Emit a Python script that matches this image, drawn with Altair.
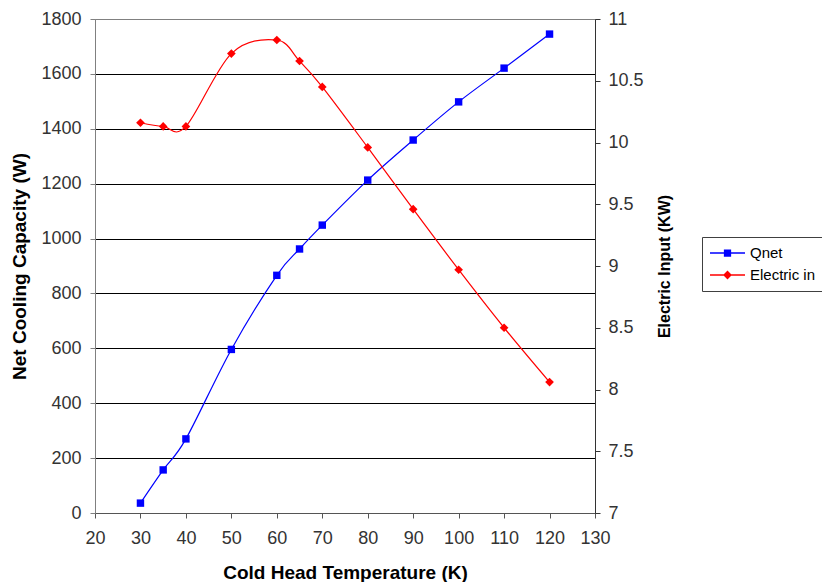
import altair as alt
import pandas as pd

temps = [30, 35, 40, 50, 60, 65, 70, 80, 90, 100, 110, 120]
qnet = [36, 157, 270, 596, 866, 962, 1049, 1213, 1359, 1498, 1621, 1745]
elec = [10.16, 10.13, 10.13, 10.72, 10.83, 10.66, 10.45, 9.96, 9.46, 8.97, 8.50, 8.06]
series = ["Qnet", "Electric in"]
colors = ["#0000FF", "#FF0000"]
x_ticks = [20, 30, 40, 50, 60, 70, 80, 90, 100, 110, 120, 130]
q_ticks = [0, 200, 400, 600, 800, 1000, 1200, 1400, 1600, 1800]
e_ticks = [7, 7.5, 8, 8.5, 9, 9.5, 10, 10.5, 11]

df = pd.DataFrame({"temp": temps, "qnet": qnet, "elec": elec})
leg_df = pd.DataFrame({"series": series})

FONT = "Liberation Sans"

x = alt.X(
    "temp:Q",
    scale=alt.Scale(domain=[20, 130], nice=False, zero=False),
    axis=alt.Axis(
        values=x_ticks, title="Cold Head Temperature (K)", grid=False, format="d",
        domainColor="#555555", tickColor="#555555", tickSize=5,
        labelPadding=11, titlePadding=16, titleFontSize=19, labelFlush=False,
        labelOverlap=False,
    ),
)

yq = alt.Y(
    "qnet:Q",
    scale=alt.Scale(domain=[0, 1800], nice=False),
    axis=alt.Axis(
        values=q_ticks, title="Net Cooling Capacity (W)", grid=True, format="d",
        gridColor={"condition": {"test": "datum.value <= 0 || datum.value >= 1800",
                                 "value": "#808080"}, "value": "#000000"},
        gridWidth=1, domainColor="#808080", tickColor="#808080", tickSize=5,
        labelPadding=9, titlePadding=11, titleFontSize=19, labelFlush=False,
        labelOverlap=False,
    ),
)

ye = alt.Y(
    "elec:Q",
    scale=alt.Scale(domain=[7, 11], nice=False, zero=False),
    axis=alt.Axis(
        values=e_ticks, orient="right", grid=False, format=".1~f",
        title="Electric Input (KW)", titleAngle=270, titleFontSize=16,
        domainColor="#333333", tickColor="#333333", tickSize=5,
        labelPadding=8, titlePadding=29, labelFlush=False, labelOverlap=False,
    ),
)

q_line = alt.Chart(df).mark_line(
    interpolate="cardinal", color=colors[0], strokeWidth=1.2
).encode(x=x, y=yq)
q_pts = alt.Chart(df).mark_point(
    shape="square", filled=True, size=55, color=colors[0], opacity=1
).encode(x=x, y=yq)

e_line = alt.Chart(df).mark_line(
    interpolate="cardinal", color=colors[1], strokeWidth=1.2
).encode(x=x, y=ye)
e_pts = alt.Chart(df).mark_point(
    shape="diamond", filled=True, size=75, color=colors[1], opacity=1
).encode(x=x, y=ye)

path_q = "M-1,0L1,0M-0.17,-0.17L0.17,-0.17L0.17,0.17L-0.17,0.17Z"
path_e = "M-1,0L1,0M0,-0.2L0.2,0L0,0.2L-0.2,0Z"

leg = alt.Legend(
    title=None, orient="none", legendX=607, legendY=218, padding=7,
    strokeColor="#404040", fillColor="white", clipHeight=18, rowPadding=4,
    labelFontSize=15, labelFont=FONT, labelColor="#000000",
    symbolSize=1225, symbolStrokeWidth=1.3, labelOffset=4, symbolOffset=0,
)

legend_layer = alt.Chart(leg_df).transform_filter("false").mark_point(
    filled=True, size=1225, opacity=1
).encode(
    fill=alt.Fill("series:N", scale=alt.Scale(domain=series, range=colors), legend=leg),
    stroke=alt.Stroke("series:N", scale=alt.Scale(domain=series, range=colors), legend=leg),
    shape=alt.Shape("series:N", scale=alt.Scale(domain=series, range=[path_q, path_e]), legend=leg),
)

chart = alt.layer(
    alt.layer(q_line, q_pts),
    alt.layer(e_line, e_pts),
    legend_layer,
).resolve_scale(
    y="independent"
).properties(
    width=500, height=494,
    autosize=alt.AutoSizeParams(type="none"),
    padding={"left": 95, "top": 19, "right": 227, "bottom": 69},
).configure_view(
    stroke="#808080", strokeWidth=1
).configure_axis(
    labelFont=FONT, labelFontSize=18, labelColor="#333333",
    titleFont=FONT, titleFontWeight="bold", titleColor="#000000",
)

chart.save("out.html", embed_options={"renderer": "svg", "actions": False})
